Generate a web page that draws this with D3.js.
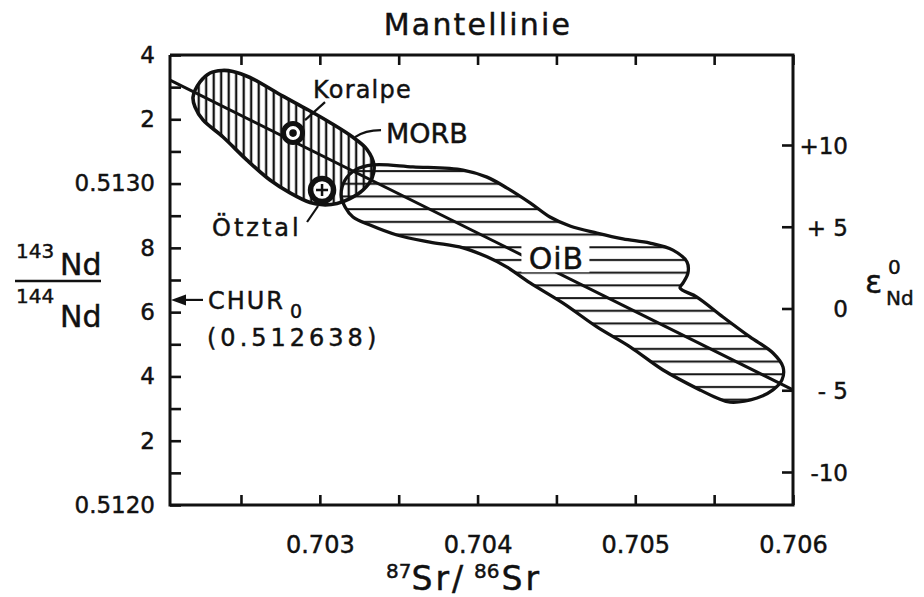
<!DOCTYPE html>
<html>
<head>
<meta charset="utf-8">
<script src="https://cdn.jsdelivr.net/npm/d3@7"></script>
<style>
  body { margin: 0; background: #fff; }
  text { font-family: "DejaVu Sans", sans-serif; fill: #111; stroke: #111; stroke-width: 0.45px; }
</style>
</head>
<body>
<div id="chart"></div>
<script>
// ticks and labels
var srTicks = [0.7025, 0.703, 0.7035, 0.704, 0.7045, 0.705, 0.7055, 0.706];
var srLabels = { 0.703: "0.703", 0.704: "0.704", 0.705: "0.705", 0.706: "0.706" };
var ndTicks = [0.5120, 0.5121, 0.5122, 0.5123, 0.5124, 0.5125, 0.5126, 0.5127,
               0.5128, 0.5129, 0.5130, 0.5131, 0.5132, 0.5133, 0.5134];
var ndLabels = ["0.5120", "", "2", "", "4", "", "6", "", "8", "", "0.5130", "", "2", "", "4"];
var epsTicks = [10, 5, 0, -5, -10];
var epsLabels = ["+10", "+ 5", "0", "- 5", "-10"];

// values: [87Sr/86Sr, 143Nd/144Nd]
var mantleLine = [[0.70205, 0.513322], [0.706, 0.512358]];
var chur = 0.512638;
var koralpe = [0.70283, 0.513157];
var oetztal = [0.703014, 0.51298];

var morbOutline = [
  [0.702196, 0.513269], [0.702240, 0.513316], [0.702304, 0.513344], [0.702380, 0.513352],
  [0.702449, 0.513349], [0.702557, 0.513330], [0.702766, 0.513272], [0.702919, 0.513231],
  [0.703064, 0.513190], [0.703210, 0.513144], [0.703299, 0.513106], [0.703343, 0.513058],
  [0.703331, 0.513017], [0.703274, 0.512980], [0.703191, 0.512953], [0.703109, 0.512938],
  [0.703020, 0.512934], [0.702938, 0.512941], [0.702811, 0.512971], [0.702684, 0.513011],
  [0.702538, 0.513073], [0.702386, 0.513145], [0.702259, 0.513198], [0.702209, 0.513238]
];

var oibOutline = [
  [0.703337, 0.513058], [0.703591, 0.513052], [0.703908, 0.513042], [0.704060, 0.513020],
  [0.704187, 0.512986], [0.704333, 0.512940], [0.704459, 0.512896], [0.704586, 0.512868],
  [0.704757, 0.512846], [0.704922, 0.512828], [0.705093, 0.512815], [0.705239, 0.512793],
  [0.705328, 0.512756], [0.705334, 0.512722], [0.705303, 0.512691], [0.705284, 0.512675],
  [0.705391, 0.512647], [0.705556, 0.512585], [0.705727, 0.512523], [0.705873, 0.512473],
  [0.705937, 0.512429], [0.705930, 0.512389], [0.705873, 0.512358], [0.705772, 0.512333],
  [0.705601, 0.512320], [0.705518, 0.512333], [0.705410, 0.512358], [0.705176, 0.512420],
  [0.704967, 0.512492], [0.704757, 0.512554], [0.704542, 0.512628], [0.704333, 0.512691],
  [0.704187, 0.512740], [0.704060, 0.512772], [0.703908, 0.512800], [0.703698, 0.512818],
  [0.703489, 0.512840], [0.703318, 0.512871], [0.703210, 0.512896], [0.703160, 0.512927],
  [0.703135, 0.512964], [0.703160, 0.513011], [0.703223, 0.513042]
];

var W = 924, H = 597;
var ink = "#111";

var svg = d3.select("#chart")
  .append("svg")
    .attr("width", W)
    .attr("height", H);

var x = d3.scaleLinear().domain([0.70205, 0.706]).range([170, 793]);
var y = d3.scaleLinear().domain([0.5120, 0.5134]).range([505, 55]);
var eps = d3.scaleLinear().domain([-10, 10]).range([472, 145]);

// hatch patterns
var defs = svg.append("defs");
defs.append("pattern")
    .attr("id", "vhatch")
    .attr("patternUnits", "userSpaceOnUse")
    .attr("width", 7.5).attr("height", 10)
  .append("line")
    .attr("x1", 3.7).attr("x2", 3.7).attr("y1", 0).attr("y2", 10)
    .attr("stroke", ink).attr("stroke-width", 2.3);
defs.append("pattern")
    .attr("id", "hhatch")
    .attr("patternUnits", "userSpaceOnUse")
    .attr("width", 10).attr("height", 12.7)
  .append("line")
    .attr("x1", 0).attr("x2", 10).attr("y1", 6).attr("y2", 6)
    .attr("stroke", ink).attr("stroke-width", 2);

var blob = d3.line()
    .x(function(d) { return x(d[0]); })
    .y(function(d) { return y(d[1]); })
    .curve(d3.curveCatmullRomClosed.alpha(0.5));

// OiB field
svg.append("path")
    .attr("d", blob(oibOutline))
    .attr("fill", "url(#hhatch)")
    .attr("stroke", ink)
    .attr("stroke-width", 3.3);

// MORB field
svg.append("path")
    .attr("d", blob(morbOutline))
    .attr("fill", "url(#vhatch)")
    .attr("stroke", ink)
    .attr("stroke-width", 3.6);

// mantle array line
svg.append("path")
    .attr("d", d3.line().x(function(d) { return x(d[0]); }).y(function(d) { return y(d[1]); })(mantleLine))
    .attr("fill", "none")
    .attr("stroke", ink)
    .attr("stroke-width", 3);

// OiB label sitting on the mantle line
var lineAt = d3.scaleLinear().domain([mantleLine[0][0], mantleLine[1][0]]).range([mantleLine[0][1], mantleLine[1][1]]);
var oibX = x(0.7045), oibY = y(lineAt(0.7045));
svg.append("rect")
    .attr("x", oibX - 35).attr("y", oibY - 29)
    .attr("width", 68).attr("height", 29)
    .attr("fill", "#fff");
svg.append("text")
    .attr("x", oibX).attr("y", oibY - 3)
    .attr("text-anchor", "middle")
    .style("font-size", "30px")
    .style("letter-spacing", "1px")
    .text("OiB");

// Koralpe marker
var kx = x(koralpe[0]), ky = y(koralpe[1]);
svg.append("circle")
    .attr("cx", kx).attr("cy", ky).attr("r", 9.5)
    .attr("fill", "#fff").attr("stroke", ink).attr("stroke-width", 5);
svg.append("circle")
    .attr("cx", kx).attr("cy", ky).attr("r", 3.8)
    .attr("fill", ink);
svg.append("line")
    .attr("x1", kx + 12).attr("y1", ky - 13)
    .attr("x2", kx + 32).attr("y2", ky - 31)
    .attr("stroke", ink).attr("stroke-width", 2.2);
svg.append("text")
    .attr("x", kx + 20).attr("y", ky - 35)
    .style("font-size", "24px")
    .style("letter-spacing", "1.2px")
    .text("Koralpe");

// MORB label
svg.append("path")
    .attr("d", "M" + (kx + 62) + "," + (ky + 4) + " Q" + (kx + 72) + "," + (ky - 3) + " " + (kx + 88) + "," + (ky - 3))
    .attr("fill", "none").attr("stroke", ink).attr("stroke-width", 2.2);
svg.append("text")
    .attr("x", kx + 93).attr("y", ky + 10)
    .style("font-size", "27px")
    .text("MORB");

// Ötztal marker
var ox = x(oetztal[0]), oy = y(oetztal[1]);
svg.append("circle")
    .attr("cx", ox).attr("cy", oy).attr("r", 11.5)
    .attr("fill", "#fff").attr("stroke", ink).attr("stroke-width", 5.5);
svg.append("path")
    .attr("d", "M" + (ox - 6) + "," + oy + "H" + (ox + 6) + "M" + ox + "," + (oy - 6) + "V" + (oy + 6))
    .attr("stroke", ink).attr("stroke-width", 2.5);
svg.append("line")
    .attr("x1", ox - 15).attr("y1", oy + 32)
    .attr("x2", ox - 4).attr("y2", oy + 16)
    .attr("stroke", ink).attr("stroke-width", 2.2);
svg.append("text")
    .attr("x", ox - 110).attr("y", oy + 46)
    .style("font-size", "24px")
    .style("letter-spacing", "3px")
    .text("Ötztal");

// CHUR arrow
var cy = y(chur);
svg.append("line")
    .attr("x1", 203).attr("y1", cy).attr("x2", 180).attr("y2", cy)
    .attr("stroke", ink).attr("stroke-width", 2.2);
svg.append("path")
    .attr("d", "M171," + cy + " L186," + (cy - 5.5) + " L186," + (cy + 5.5) + "Z")
    .attr("fill", ink);
svg.append("text")
    .attr("x", 208).attr("y", cy + 9)
    .style("font-size", "24px")
    .style("letter-spacing", "2px")
    .text("CHUR");
svg.append("text")
    .attr("x", 290).attr("y", cy + 18)
    .style("font-size", "19px")
    .text("0");
svg.append("text")
    .attr("x", 207).attr("y", cy + 46)
    .style("font-size", "24px")
    .style("letter-spacing", "4px")
    .text("(0.512638)");

// axes
function styleAxis(g) {
  g.select(".domain").remove();
  g.selectAll(".tick line").attr("stroke", ink).attr("stroke-width", 2.6);
  g.selectAll(".tick text").attr("fill", ink).style("font-size", "23px")
    .style("font-family", "DejaVu Sans, sans-serif");
}

svg.append("g")
    .attr("transform", "translate(0,505)")
    .call(d3.axisBottom(x).tickValues(srTicks).tickSizeInner(-10).tickSizeOuter(0).tickPadding(31)
      .tickFormat(function(d) { return srLabels[d] || ""; }))
    .call(styleAxis)
    .selectAll(".tick text").style("font-size", "24px");

svg.append("g")
    .attr("transform", "translate(0,55)")
    .call(d3.axisTop(x).tickValues(srTicks).tickSizeInner(-10).tickSizeOuter(0).tickFormat(""))
    .call(styleAxis);

svg.append("g")
    .attr("transform", "translate(170,0)")
    .call(d3.axisLeft(y).tickValues(ndTicks).tickSizeInner(-11).tickSizeOuter(0).tickPadding(15)
      .tickFormat(function(d, i) { return ndLabels[i]; }))
    .call(styleAxis);

svg.append("g")
    .attr("transform", "translate(793,0)")
    .call(d3.axisRight(eps).tickValues(epsTicks).tickSizeInner(-11).tickSizeOuter(0)
      .tickFormat(function(d, i) { return epsLabels[i]; }))
    .call(styleAxis)
    .selectAll(".tick text")
      .attr("text-anchor", "end")
      .attr("x", 55)
      .attr("dy", "0.36em");

// frame
svg.append("path")
    .attr("d", "M" + x.range()[0] + "," + y.range()[1] + "V" + y.range()[0] + "H" + x.range()[1] +
               "V" + y.range()[1] + "H" + x.range()[0])
    .attr("fill", "none")
    .attr("stroke", ink)
    .attr("stroke-width", 3);

// titles
svg.append("text")
    .attr("x", 478).attr("y", 35)
    .attr("text-anchor", "middle")
    .style("font-size", "30px")
    .style("letter-spacing", "2.2px")
    .text("Mantellinie");

var xt = svg.append("text").attr("x", 386).attr("y", 590);
xt.append("tspan").style("font-size", "20px").attr("dy", -12).text("87");
xt.append("tspan").style("font-size", "33px").style("letter-spacing", "3px").attr("dy", 12).text("Sr/");
xt.append("tspan").style("font-size", "20px").attr("dx", 8).attr("dy", -12).text("86");
xt.append("tspan").style("font-size", "33px").style("letter-spacing", "3px").attr("dx", 2).attr("dy", 12).text("Sr");

svg.append("text").attr("x", 16).attr("y", 258).style("font-size", "20px").text("143");
svg.append("text").attr("x", 60).attr("y", 275).style("font-size", "30px").text("Nd");
svg.append("line")
    .attr("x1", 15).attr("x2", 101).attr("y1", 281).attr("y2", 281)
    .attr("stroke", ink).attr("stroke-width", 2.4);
svg.append("text").attr("x", 16).attr("y", 303).style("font-size", "20px").text("144");
svg.append("text").attr("x", 60).attr("y", 327).style("font-size", "30px").text("Nd");

svg.append("text").attr("x", 865).attr("y", 293).style("font-size", "32px").text("ε");
svg.append("text").attr("x", 888).attr("y", 274).style("font-size", "20px").text("0");
svg.append("text").attr("x", 886).attr("y", 305).style("font-size", "20px").text("Nd");
</script>
</body>
</html>
